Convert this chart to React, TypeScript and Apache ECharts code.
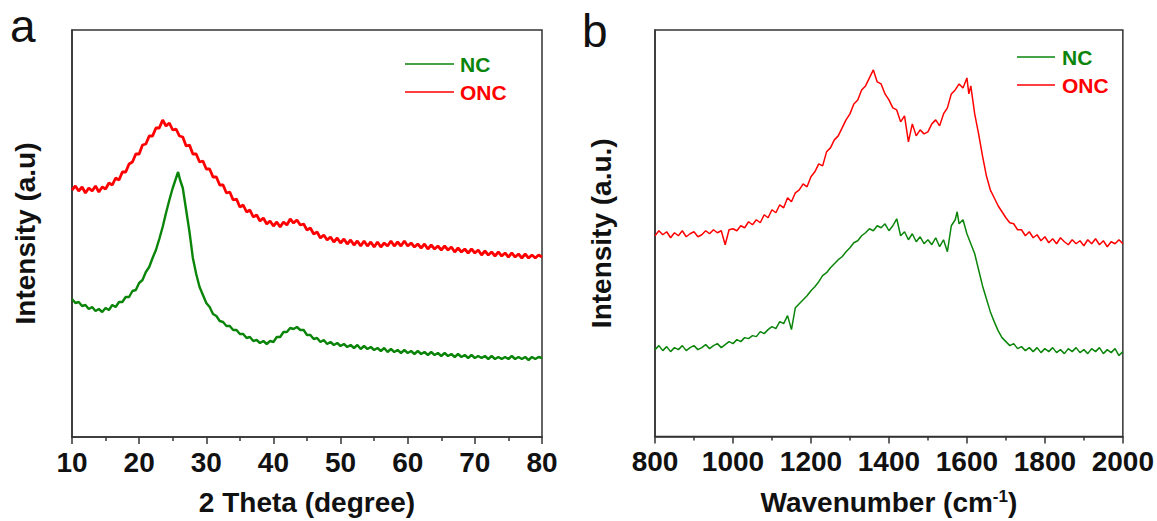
import React, { useEffect, useRef } from "react";
import * as echarts from "echarts";

// ---------- XRD (panel a) ----------
const xrdNCTheta = [10, 10.5, 11, 11.5, 12, 12.5, 13, 13.5, 14, 14.5, 15, 15.5, 16, 16.5, 17, 17.5, 18, 18.5, 19, 19.5, 20, 20.5, 21, 21.5, 22, 22.5, 23, 23.5, 24, 24.5, 25, 25.5, 25.8, 26.1, 26.5, 27, 27.5, 28, 28.5, 29, 29.5, 30, 30.5, 31, 31.5, 32, 32.5, 33, 33.5, 34, 34.5, 35, 35.5, 36, 36.5, 37, 37.5, 38, 38.5, 39, 39.5, 40, 40.5, 41, 41.5, 42, 42.5, 43, 43.5, 44, 44.5, 45, 45.5, 46, 46.5, 47, 47.5, 48, 48.5, 49, 49.5, 50, 50.5, 51, 51.5, 52, 52.5, 53, 53.5, 54, 54.5, 55, 55.5, 56, 56.5, 57, 57.5, 58, 58.5, 59, 59.5, 60, 60.5, 61, 61.5, 62, 62.5, 63, 63.5, 64, 64.5, 65, 65.5, 66, 66.5, 67, 67.5, 68, 68.5, 69, 69.5, 70, 70.5, 71, 71.5, 72, 72.5, 73, 73.5, 74, 74.5, 75, 75.5, 76, 76.5, 77, 77.5, 78, 78.5, 79, 79.5, 80];
const xrdNCIntensity = [135, 131, 132, 128, 129, 125, 127, 123, 125, 122, 126, 124, 129, 127, 132, 132, 137, 137, 143, 144, 151, 154, 162, 167, 176, 184, 195, 207, 221, 234, 246, 256, 262, 254, 246, 224, 202, 176, 160, 147, 139, 131, 127, 120, 118, 113, 112, 108, 108, 104, 104, 100, 100, 96, 97, 93, 94, 91, 93, 90, 93, 92, 97, 97, 102, 102, 106, 105, 107, 104, 104, 99, 99, 95, 96, 92, 94, 90, 92, 89, 91, 88, 90, 87, 89, 86, 89, 85, 88, 85, 87, 84, 86, 83, 86, 82, 85, 82, 84, 81, 84, 81, 83, 80, 83, 80, 82, 79, 82, 79, 81, 78, 81, 78, 80, 77, 80, 77, 79, 76, 79, 76, 78, 76, 78, 75, 78, 75, 77, 75, 77, 75, 78, 75, 77, 75, 77, 74, 77, 75, 77, 76];

const xrdONCTheta = [10, 10.5, 11, 11.5, 12, 12.5, 13, 13.5, 14, 14.5, 15, 15.5, 16, 16.5, 17, 17.5, 18, 18.5, 19, 19.5, 20, 20.5, 21, 21.5, 22, 22.5, 23, 23.5, 24, 24.5, 25, 25.5, 26, 26.5, 27, 27.5, 28, 28.5, 29, 29.5, 30, 30.5, 31, 31.5, 32, 32.5, 33, 33.5, 34, 34.5, 35, 35.5, 36, 36.5, 37, 37.5, 38, 38.5, 39, 39.5, 40, 40.5, 41, 41.5, 42, 42.5, 43, 43.5, 44, 44.5, 45, 45.5, 46, 46.5, 47, 47.5, 48, 48.5, 49, 49.5, 50, 50.5, 51, 51.5, 52, 52.5, 53, 53.5, 54, 54.5, 55, 55.5, 56, 56.5, 57, 57.5, 58, 58.5, 59, 59.5, 60, 60.5, 61, 61.5, 62, 62.5, 63, 63.5, 64, 64.5, 65, 65.5, 66, 66.5, 67, 67.5, 68, 68.5, 69, 69.5, 70, 70.5, 71, 71.5, 72, 72.5, 73, 73.5, 74, 74.5, 75, 75.5, 76, 76.5, 77, 77.5, 78, 78.5, 79, 79.5, 80];
const xrdONCIntensity = [244, 248, 243, 247, 241, 246, 243, 248, 242, 247, 245, 251, 249, 256, 254, 262, 262, 270, 272, 280, 280, 289, 290, 298, 298, 306, 306, 314, 308, 311, 304, 305, 298, 297, 288, 289, 280, 280, 272, 273, 265, 265, 257, 257, 249, 249, 241, 242, 234, 235, 227, 229, 222, 224, 217, 219, 213, 216, 210, 213, 208, 212, 207, 212, 209, 215, 211, 214, 209, 210, 204, 206, 200, 202, 196, 199, 194, 197, 192, 196, 191, 195, 190, 194, 189, 193, 188, 193, 188, 192, 187, 192, 187, 191, 188, 193, 188, 192, 188, 193, 188, 191, 187, 190, 186, 190, 185, 189, 185, 188, 184, 188, 184, 187, 182, 186, 182, 185, 181, 185, 181, 184, 179, 183, 179, 182, 178, 182, 178, 181, 177, 181, 177, 180, 176, 180, 176, 179, 176, 179, 177];

// ---------- Raman (panel b) ----------
const ramanONCShift = [800, 810, 820, 830, 840, 850, 860, 870, 880, 890, 900, 910, 920, 930, 940, 950, 960, 970, 980, 990, 1000, 1010, 1020, 1030, 1040, 1050, 1060, 1070, 1080, 1090, 1100, 1110, 1120, 1130, 1140, 1150, 1160, 1170, 1180, 1190, 1200, 1210, 1220, 1230, 1240, 1250, 1260, 1270, 1280, 1290, 1300, 1310, 1320, 1330, 1340, 1350, 1360, 1370, 1380, 1390, 1400, 1410, 1420, 1430, 1440, 1450, 1460, 1470, 1480, 1490, 1500, 1510, 1520, 1530, 1540, 1550, 1560, 1570, 1580, 1590, 1600, 1605, 1610, 1620, 1630, 1640, 1650, 1660, 1670, 1680, 1690, 1700, 1710, 1720, 1730, 1740, 1750, 1760, 1770, 1780, 1790, 1800, 1810, 1820, 1830, 1840, 1850, 1860, 1870, 1880, 1890, 1900, 1910, 1920, 1930, 1940, 1950, 1960, 1970, 1980, 1990, 2000];
const ramanONCIntensity = [198, 203, 199, 202, 196, 201, 198, 203, 197, 200, 202, 197, 199, 203, 200, 204, 201, 203, 189, 204, 205, 203, 208, 206, 212, 209, 214, 211, 219, 216, 224, 221, 229, 226, 236, 232, 241, 244, 250, 247, 257, 262, 270, 268, 282, 286, 294, 298, 306, 314, 320, 330, 334, 344, 348, 356, 364, 352, 350, 340, 334, 326, 324, 312, 318, 292, 310, 298, 304, 300, 302, 310, 314, 308, 320, 326, 340, 344, 350, 346, 356, 340, 348, 320, 300, 278, 258, 244, 236, 228, 222, 216, 211, 210, 204, 204, 198, 202, 196, 199, 193, 197, 191, 195, 190, 196, 192, 189, 194, 190, 193, 188, 194, 190, 195, 189, 193, 187, 192, 190, 194, 190];

const ramanNCShift = [800, 810, 820, 830, 840, 850, 860, 870, 880, 890, 900, 910, 920, 930, 940, 950, 960, 970, 980, 990, 1000, 1010, 1020, 1030, 1040, 1050, 1060, 1070, 1080, 1090, 1100, 1110, 1120, 1130, 1140, 1150, 1160, 1170, 1180, 1190, 1200, 1210, 1220, 1230, 1240, 1250, 1260, 1270, 1280, 1290, 1300, 1310, 1320, 1330, 1340, 1350, 1360, 1370, 1380, 1390, 1400, 1410, 1420, 1430, 1440, 1450, 1460, 1470, 1480, 1490, 1500, 1510, 1520, 1530, 1540, 1550, 1560, 1570, 1575, 1580, 1590, 1600, 1610, 1620, 1630, 1640, 1650, 1660, 1670, 1680, 1690, 1700, 1710, 1720, 1730, 1740, 1750, 1760, 1770, 1780, 1790, 1800, 1810, 1820, 1830, 1840, 1850, 1860, 1870, 1880, 1890, 1900, 1910, 1920, 1930, 1940, 1950, 1960, 1970, 1980, 1990, 2000];
const ramanNCIntensity = [84, 88, 83, 87, 82, 86, 84, 88, 83, 86, 88, 84, 86, 89, 85, 88, 90, 86, 89, 92, 90, 94, 92, 96, 95, 98, 97, 102, 100, 104, 107, 105, 112, 110, 118, 104, 126, 130, 134, 138, 143, 147, 152, 158, 161, 166, 170, 174, 177, 182, 186, 191, 193, 198, 201, 205, 203, 208, 206, 210, 203, 208, 215, 198, 202, 194, 200, 192, 197, 190, 194, 189, 196, 187, 194, 182, 208, 214, 222, 210, 214, 200, 190, 180, 164, 148, 135, 122, 112, 103, 96, 92, 88, 90, 85, 87, 83, 86, 82, 86, 81, 85, 82, 86, 81, 84, 80, 85, 82, 86, 81, 84, 80, 85, 82, 86, 80, 84, 81, 85, 78, 82];

const xrdTicks = [10, 20, 30, 40, 50, 60, 70, 80];
const ramanTicks = [800, 1000, 1200, 1400, 1600, 1800, 2000];

const GREEN = "#0a850a";
const RED = "#ff0000";
const AXIS = "#333333";
const TEXT = "#111111";
const FONT = "'Liberation Sans', Arial, sans-serif";

const pairs = (xs: number[], ys: number[]) => xs.map((x, i) => [x, ys[i]]);

function xAxisCfg(grid: number, ticks: number[], name: any, rich?: any) {
  return {
    type: "value",
    gridIndex: grid,
    min: ticks[0],
    max: ticks[ticks.length - 1],
    interval: ticks[1] - ticks[0],
    axisLine: { show: true, onZero: false, lineStyle: { color: AXIS, width: 1.5 } },
    axisTick: { show: true, inside: false, length: 7, lineStyle: { color: AXIS, width: 1.5 } },
    minorTick: { show: true, splitNumber: 2, length: 4, lineStyle: { color: AXIS, width: 1.5 } },
    splitLine: { show: false },
    minorSplitLine: { show: false },
    axisLabel: {
      fontSize: 28,
      fontWeight: "bold",
      color: TEXT,
      fontFamily: FONT,
      margin: 11,
      formatter: (v: number) => String(v),
    },
    name,
    nameLocation: "middle",
    nameGap: 51,
    nameTextStyle: { fontSize: 28, fontWeight: "bold", color: TEXT, fontFamily: FONT, rich },
  };
}

function yAxisCfg(grid: number, name: string, gap: number) {
  return {
    type: "value",
    gridIndex: grid,
    min: -3,
    max: 404,
    axisLine: { show: true, lineStyle: { color: AXIS, width: 1.5 } },
    axisTick: { show: false },
    axisLabel: { show: false },
    splitLine: { show: false },
    name,
    nameLocation: "middle",
    nameGap: gap,
    nameTextStyle: { fontSize: 28, fontWeight: "bold", color: TEXT, fontFamily: FONT },
  };
}

function legendGraphics(lineX: number, lineLen: number, textX: number, y1: number, y2: number) {
  return [
    { type: "line", shape: { x1: lineX, y1, x2: lineX + lineLen, y2: y1 }, style: { stroke: GREEN, lineWidth: 1.5 } },
    { type: "text", x: textX, y: y1, style: { text: "NC", fill: GREEN, font: `bold 21px ${FONT}`, verticalAlign: "middle" } },
    { type: "line", shape: { x1: lineX, y1: y2, x2: lineX + lineLen, y2 }, style: { stroke: RED, lineWidth: 1.5 } },
    { type: "text", x: textX, y: y2, style: { text: "ONC", fill: RED, font: `bold 21px ${FONT}`, verticalAlign: "middle" } },
  ];
}

export default function App() {
  const ref = useRef<HTMLDivElement>(null);
  useEffect(() => {
    if (!ref.current) return;
    const chart = echarts.init(ref.current, null, { renderer: "svg" });
    const option = {
      animation: false,
      backgroundColor: "#ffffff",
      grid: [
        { left: 72, top: 30, width: 470, height: 407, show: true, borderColor: AXIS, borderWidth: 1.5 },
        { left: 655, top: 30, width: 470, height: 407, show: true, borderColor: AXIS, borderWidth: 1.5 },
      ],
      xAxis: [
        xAxisCfg(0, xrdTicks, "2 Theta (degree)"),
        xAxisCfg(1, ramanTicks, "{a|Wavenumber (cm}{s|-1}{a|)}", {
          a: { fontSize: 28, fontWeight: "bold", color: TEXT, fontFamily: FONT },
          s: { fontSize: 17, fontWeight: "bold", color: TEXT, fontFamily: FONT, verticalAlign: "top", padding: [0, 0, 12, 0] },
        }),
      ],
      yAxis: [yAxisCfg(0, "Intensity (a.u)", 33), yAxisCfg(1, "Intensity (a.u.)", 40)],
      series: [
        { name: "ONC", type: "line", xAxisIndex: 0, yAxisIndex: 0, showSymbol: false, symbol: "none", lineStyle: { color: RED, width: 2.8 }, itemStyle: { color: RED }, data: pairs(xrdONCTheta, xrdONCIntensity) },
        { name: "NC", type: "line", xAxisIndex: 0, yAxisIndex: 0, showSymbol: false, symbol: "none", lineStyle: { color: GREEN, width: 2.4 }, itemStyle: { color: GREEN }, data: pairs(xrdNCTheta, xrdNCIntensity) },
        { name: "ONC", type: "line", xAxisIndex: 1, yAxisIndex: 1, showSymbol: false, symbol: "none", lineStyle: { color: RED, width: 1.5 }, itemStyle: { color: RED }, data: pairs(ramanONCShift, ramanONCIntensity) },
        { name: "NC", type: "line", xAxisIndex: 1, yAxisIndex: 1, showSymbol: false, symbol: "none", lineStyle: { color: GREEN, width: 1.5 }, itemStyle: { color: GREEN }, data: pairs(ramanNCShift, ramanNCIntensity) },
      ],
      graphic: [
        { type: "text", x: 10, y: 26, style: { text: "a", fill: TEXT, font: `46px ${FONT}`, verticalAlign: "middle" } },
        { type: "text", x: 582, y: 31, style: { text: "b", fill: TEXT, font: `46px ${FONT}`, verticalAlign: "middle" } },
        ...legendGraphics(405, 49, 460, 64, 92),
        ...legendGraphics(1017, 38, 1062, 57, 85),
      ],
    };
    chart.setOption(option as any);
    return () => chart.dispose();
  }, []);
  return <div ref={ref} style={{ position: "fixed", left: 0, top: 0, width: 1157, height: 521 }} />;
}
